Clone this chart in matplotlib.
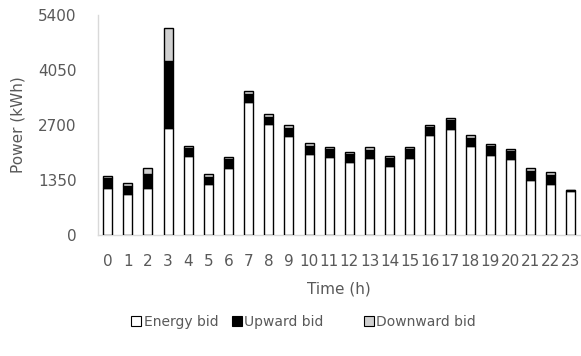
import matplotlib
matplotlib.use("Agg")
import matplotlib.pyplot as plt
from matplotlib.patches import Patch

# Hourly bids (kWh)
hours = list(range(24))
energy_bid = [1160, 1000, 1160, 2620, 1950, 1245, 1650, 3265, 2720, 2440, 1990, 1905,
              1790, 1900, 1695, 1900, 2450, 2610, 2185, 1970, 1860, 1360, 1260, 1080]
upward_bid = [230, 210, 330, 1645, 180, 185, 205, 205, 185, 195, 200, 205,
              195, 195, 190, 200, 200, 210, 200, 210, 200, 215, 220, 20]
downward_bid = [60, 60, 160, 810, 60, 60, 60, 60, 60, 60, 60, 60,
                60, 60, 60, 60, 60, 60, 60, 60, 60, 60, 60, 0]
y_ticks = [0, 1350, 2700, 4050, 5400]
series_names = ["Energy bid", "Upward bid", "Downward bid"]

text_color = "#595959"
axis_color = "#d9d9d9"
down_color = "#d0d0d0"
font = "DejaVu Sans"
fs = 11

fig = plt.figure(figsize=(5.81, 3.56), dpi=100)
ax = fig.add_axes([97.6 / 581, 121 / 356, (581 - 97.6) / 581, 220 / 356])

width = 0.45
bar_kw = dict(width=width, edgecolor="black", linewidth=1.0, zorder=3)
ax.bar(hours, energy_bid, color="white", **bar_kw)
bottom2 = [e for e in energy_bid]
ax.bar(hours, upward_bid, bottom=bottom2, color="black", **bar_kw)
bottom3 = [e + u for e, u in zip(energy_bid, upward_bid)]
ax.bar(hours, downward_bid, bottom=bottom3, color=down_color, **bar_kw)

ax.set_xlim(-0.5, 23.5)
ax.set_ylim(0, 5400)
ax.set_yticks(y_ticks)
ax.set_yticklabels([str(v) for v in y_ticks], fontname=font, fontsize=fs, color=text_color)
ax.set_xticks(hours)
ax.set_xticklabels([str(h) for h in hours], fontname=font, fontsize=fs, color=text_color)
ax.tick_params(axis="x", length=0, pad=14)
ax.tick_params(axis="y", length=0, pad=15)

for side in ["top", "right"]:
    ax.spines[side].set_visible(False)
for side in ["left", "bottom"]:
    ax.spines[side].set_color(axis_color)
    ax.spines[side].set_linewidth(1.0)

ax.set_xlabel("Time (h)", fontname=font, fontsize=fs, color=text_color)
ax.xaxis.set_label_coords(0.5, -(289 - 235) / 220)
ax.xaxis.label.set_va("center")
ax.set_ylabel("Power (kWh)", fontname=font, fontsize=fs, color=text_color)
ax.yaxis.set_label_coords(-(97.6 - 18) / 483.4, 0.5)
ax.yaxis.label.set_va("center")

# Legend entries laid out individually along the bottom
fills = ["white", "black", down_color]
starts = [131, 232, 364]
for name, fill, x0 in zip(series_names, fills, starts):
    h = Patch(facecolor=fill, edgecolor="black", linewidth=0.8, label=name)
    leg = fig.legend(handles=[h], loc="center left", bbox_to_anchor=(x0 / 581, 34 / 356),
                     frameon=False, handlelength=0.7, handleheight=0.7, handletextpad=0.2,
                     borderpad=0, borderaxespad=0, prop={"family": font, "size": 10})
    for t in leg.get_texts():
        t.set_color(text_color)

fig.savefig("out.png", dpi=100)
